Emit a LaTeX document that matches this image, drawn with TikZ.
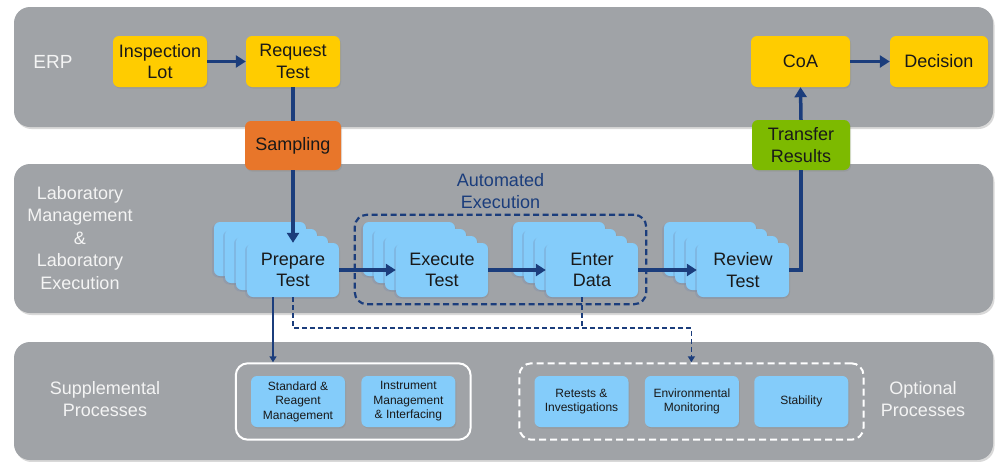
\documentclass[tikz,border=0pt]{standalone}
\usepackage{fontspec}
\setmainfont{Liberation Sans}
\usetikzlibrary{positioning,calc,arrows.meta,fit,shadows}
\definecolor{cband}{HTML}{A0A3A7}
\definecolor{cyel}{HTML}{FFCC00}
\definecolor{corange}{HTML}{E8762A}
\definecolor{cgreen}{HTML}{7DBA00}
\definecolor{clblue}{HTML}{84CCFA}
\definecolor{cnavy}{HTML}{1B3D7C}
\definecolor{cwhite}{HTML}{F4F4F4}
\newcommand{\bigtxt}{\fontsize{18}{21.5}\selectfont}
\newcommand{\smalltxt}{\fontsize{12}{14.5}\selectfont}

\begin{document}
\begin{tikzpicture}[x=1pt,y=-1pt,
    band/.style={fill=cband,rounded corners=16pt,
      drop shadow={opacity=0.3,shadow xshift=1.5pt,shadow yshift=-2pt}},
    tagbox/.style={rounded corners=6pt,minimum width=94pt,minimum height=51pt,
      inner sep=2pt,align=center,font=\bigtxt,text=black!90,
      drop shadow={opacity=0.25,shadow xshift=1pt,shadow yshift=-1.5pt}},
    erpbox/.style={tagbox,fill=cyel},
    stepbox/.style={tagbox,fill=clblue,minimum width=92pt,minimum height=54pt,
      drop shadow={opacity=0.3,fill=cnavy!60,shadow xshift=-2pt,shadow yshift=-1.5pt}},
    subbox/.style={tagbox,fill=clblue,font=\smalltxt},
    lanelab/.style={align=center,font=\bigtxt,text=cwhite,inner sep=0pt},
    flow/.style={draw=cnavy,line width=3.5pt,-{Triangle[length=10pt,width=12pt]}},
    link/.style={draw=cnavy,line width=3.5pt},
    thinflow/.style={draw=cnavy,line width=1.8pt,-{Triangle[length=6pt,width=7pt]}},
    dashlink/.style={draw=cnavy,line width=1.8pt,dash pattern=on 5pt off 3pt},
    dashflow/.style={thinflow,dash pattern=on 5pt off 3pt}]
  \useasboundingbox (0,0) rectangle (997,461);
  % ---- lanes
  \fill[band] (14,7) rectangle (993,127);
  \fill[band] (14,164) rectangle (993,313);
  \fill[band] (14,342) rectangle (993,460);
  \node[lanelab,font=\fontsize{19}{22}\selectfont] (erplab) at (53,62) {ERP};
  \node[lanelab,font=\fontsize{18}{22.5}\selectfont] (lablab) at (80,238) {Laboratory\\Management\\\&\\Laboratory\\Execution};
  \node[lanelab] (supplab) at (105,399) {Supplemental\\Processes};
  \node[lanelab] (optlab) at (923,399) {Optional\\Processes};
  % ---- ERP track
  \node[erpbox] (insp) at (160,61.5) {Inspection\\Lot};
  \node[erpbox] (req) at (293,61.5) {Request\\Test};
  \node[erpbox,minimum width=99pt] (coa) at (800.5,61.5) {CoA};
  \node[erpbox,minimum width=98pt] (dec) at (939,61.5) {Decision};
  \node[tagbox,fill=corange,minimum width=96pt,minimum height=49pt] (samp) at (293,145.5) {Sampling};
  \node[tagbox,fill=cgreen,minimum width=98pt,minimum height=50pt] (trans) at (801,145) {Transfer\\Results};
  % ---- lab track: stacks of steps
  \foreach \nm/\cx/\txt in {prep/293/Prepare\\Test,exec/442/Execute\\Test,
      enter/592/Enter\\Data,review/743/Review\\Test}{
    \foreach \k in {3,2,1}
      \node[stepbox] (\nm\k) at (\cx-11*\k,270-7*\k) {};
    \node[stepbox] (\nm) at (\cx,270) {\txt};}
  \node[draw=cnavy,line width=2.2pt,dash pattern=on 6pt off 3.5pt,rounded corners=12pt,
    inner xsep=8pt,inner ysep=7pt,fit=(exec3)(enter)] (autoex) {};
  \node[lanelab,text=cnavy,above=5pt of autoex] (autolab) {Automated\\Execution};
  % ---- supplemental and optional
  \node[subbox] (stdr) at (298,401.5) {Standard \&\\Reagent\\Management};
  \node[subbox,right=16pt of stdr] (instr) {Instrument\\Management\\\& Interfacing};
  \node[subbox] (retest) at (581.5,401.5) {Retests \&\\Investigations};
  \node[subbox,right=16pt of retest] (env) {Environmental\\Monitoring};
  \node[subbox,right=15pt of env] (stab) {Stability};
  \node[draw=white,line width=2pt,rounded corners=12pt,inner xsep=15pt,inner ysep=12.5pt,
    fit=(stdr)(instr)] (suppbox) {};
  \node[draw=white,line width=2pt,dash pattern=on 7pt off 4pt,rounded corners=12pt,
    inner xsep=15pt,inner ysep=12.5pt,fit=(retest)(stab)] (optbox) {};
  % ---- connectors
  \draw[flow] (insp.east) -- (req.west);
  \draw[link] (req.south) -- (samp.north);
  \draw[flow] (samp.south) -- (prep.north);
  \draw[flow] (prep.east) -- (exec.west);
  \draw[flow] (exec.east) -- (enter.west);
  \draw[flow] (enter.east) -- (review.west);
  \draw[link] (review.east) -| (trans.south);
  \draw[flow] (trans.north) -- (coa.south);
  \draw[flow] (coa.east) -- (dec.west);
  \draw[thinflow] ([xshift=-20pt]prep.south) -- ([xshift=-20pt]prep.south |- suppbox.north);
  \coordinate (dj) at ($(prep.south)+(0,31)$);
  \draw[dashlink] ([xshift=-10pt]enter.south) -- ([xshift=-10pt]enter.south |- dj);
  \draw[dashflow] (prep.south) -- (dj) -| (optbox.north);
\end{tikzpicture}
\end{document}
